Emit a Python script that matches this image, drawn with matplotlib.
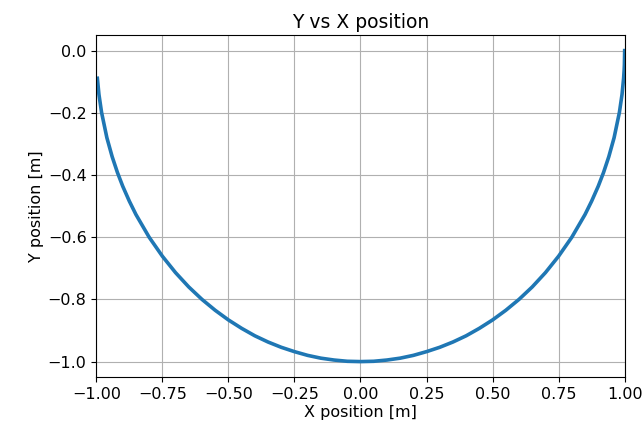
import matplotlib.pyplot as plt
import numpy as np

# Pendulum bob path (x, y) in metres
x_left = [-0.996, -0.990, -0.980, -0.960, -0.940, -0.920, -0.900, -0.875, -0.850,
          -0.800, -0.750, -0.700, -0.650, -0.600, -0.550, -0.500, -0.450, -0.400,
          -0.350, -0.300, -0.250, -0.200, -0.150, -0.100, -0.050]
y_left = [-0.089, -0.141, -0.199, -0.280, -0.341, -0.392, -0.436, -0.484, -0.527,
          -0.600, -0.661, -0.714, -0.760, -0.800, -0.835, -0.866, -0.893, -0.917,
          -0.937, -0.954, -0.968, -0.980, -0.989, -0.995, -0.999]
x_mid = [0.000]
y_mid = [-1.000]
x_right = [0.050, 0.100, 0.150, 0.200, 0.250, 0.300, 0.350, 0.400, 0.450, 0.500,
           0.550, 0.600, 0.650, 0.700, 0.750, 0.800, 0.850, 0.875, 0.900, 0.920,
           0.940, 0.960, 0.980, 0.990, 0.996, 0.998, 0.999, 1.000]
y_right = [-0.999, -0.995, -0.989, -0.980, -0.968, -0.954, -0.937, -0.917, -0.893, -0.866,
           -0.835, -0.800, -0.760, -0.714, -0.661, -0.600, -0.527, -0.484, -0.436, -0.392,
           -0.341, -0.280, -0.199, -0.141, -0.089, -0.063, -0.045, 0.000]

x = np.array(x_left + x_mid + x_right)
y = np.array(y_left + y_mid + y_right)

fig = plt.figure(figsize=(6.42, 4.33), dpi=100)
ax = fig.add_axes([0.150, 0.129, 0.823, 0.790])
ax.plot(x, y, color='#1f77b4', linewidth=2.6)
ax.set_xlim(-1.0, 1.0)
ax.set_xticks(np.arange(-1.0, 1.01, 0.25))
ax.tick_params(labelsize=11.5)
ax.set_title('Y vs X position', fontsize=13.5, pad=5)
ax.set_xlabel('X position [m]', fontsize=11.5, labelpad=2)
ax.set_ylabel('Y position [m]', fontsize=11.5, labelpad=3)
ax.grid(True)

fig.savefig('out.png', dpi=100)
